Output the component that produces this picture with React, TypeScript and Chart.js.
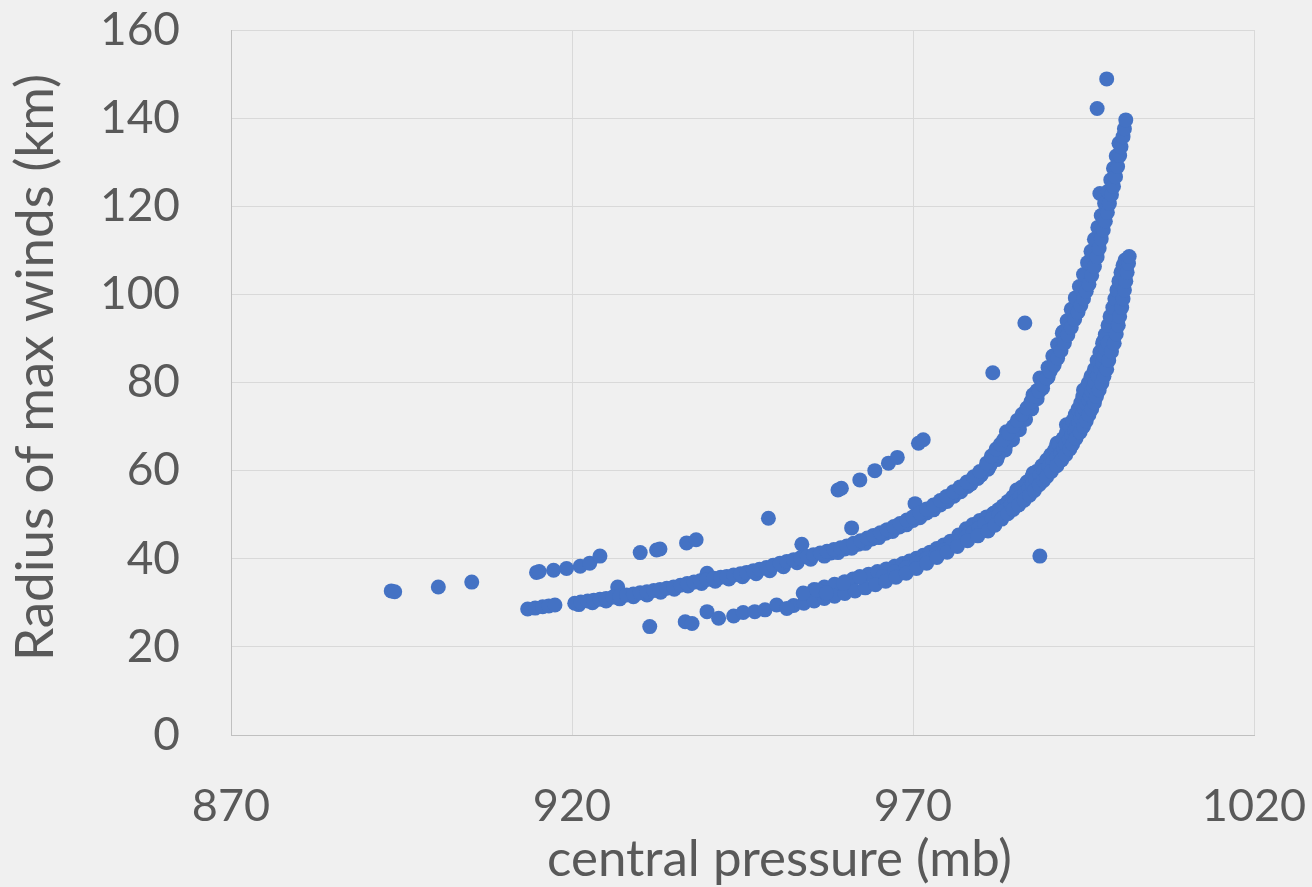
import React, { useEffect, useRef } from "react";
import { Chart, registerables } from "chart.js";

Chart.register(...registerables);

// ---- axis / text ----
const X_MIN = 870;
const X_MAX = 1020;
const X_STEP = 50;
const Y_MIN = 0;
const Y_MAX = 160;
const Y_STEP = 20;
const X_TITLE = "central pressure (mb)";
const Y_TITLE = "Radius of max winds (km)";

// ---- data (central pressure mb, radius km) ----
// main upper band
const upperBandP = [913.5, 914.6, 915.7, 916.6, 917.5, 920.4, 921.3, 922.3, 923.2, 924.1, 925.0, 926.0, 927.0, 928.0, 929.0, 930.0, 931.0, 932.0, 932.9, 933.9, 934.9, 935.9, 936.9, 937.9, 938.8, 939.8, 940.8, 941.8, 942.7, 943.7, 944.7, 945.6, 946.6, 947.5, 948.5, 949.5, 950.5, 951.5, 952.5, 953.5, 954.5, 955.4, 956.4, 957.4, 958.4, 959.4, 960.3, 961.3, 962.3, 963.3, 964.2, 965.2, 966.2, 967.2, 968.1, 969.1, 970.0, 971.0, 972.0, 973.0, 974.0, 974.9, 975.9, 976.9, 977.9, 978.9, 979.8, 980.8, 981.5, 982.2, 982.8, 983.3, 984.0, 984.7, 985.3, 986.0, 986.7, 987.3, 987.9, 988.5, 989.0, 989.6, 990.1, 990.7, 991.2, 991.7, 992.2, 992.7, 993.2, 993.7, 994.2, 994.6, 995.0, 995.4, 995.8, 996.2, 996.6, 997.0, 997.3, 997.6, 997.9, 998.2, 998.5, 998.8, 999.1, 999.4, 999.7, 1000.0, 1000.3, 1000.5, 1000.8, 1001.0, 1001.2];
const upperBandR = [28.6, 28.8, 29.1, 29.3, 29.5, 29.9, 30.2, 30.4, 30.6, 30.8, 31.0, 31.3, 31.5, 31.8, 32.0, 32.3, 32.5, 32.8, 33.0, 33.3, 33.6, 34.0, 34.4, 34.7, 35.0, 35.3, 35.6, 35.8, 36.0, 36.3, 36.6, 36.9, 37.3, 37.6, 38.0, 38.5, 39.0, 39.4, 39.8, 40.2, 40.5, 40.9, 41.3, 41.7, 42.1, 42.5, 42.9, 43.5, 44.1, 44.7, 45.3, 45.9, 46.6, 47.3, 48.0, 48.8, 49.5, 50.4, 51.3, 52.2, 53.2, 54.1, 55.2, 56.3, 57.4, 58.6, 59.8, 61.7, 63.3, 64.9, 66.0, 67.0, 68.5, 70.0, 71.4, 72.8, 74.2, 75.6, 76.8, 78.0, 79.5, 81.0, 82.5, 84.0, 85.5, 87.2, 89.0, 90.8, 92.5, 94.3, 96.0, 97.5, 99.0, 100.7, 102.3, 104.3, 106.3, 108.5, 110.5, 112.6, 114.6, 116.6, 118.6, 120.6, 122.6, 124.5, 126.7, 129.0, 131.5, 133.5, 135.8, 137.6, 139.6];

// inner row of the upper band
const upperEdgeP = [921, 923, 925, 927, 929, 931, 933, 935, 937, 939, 941, 943, 945, 947, 949, 951, 953, 955, 957, 959, 961, 963, 965, 967, 969, 971, 973, 975, 977, 978.5, 980, 981.3, 982.5, 983.6, 984.6, 985.6, 986.5, 987.4, 988.2, 989.0, 989.8, 990.5, 991.2, 991.9, 992.6, 993.2, 993.8, 994.4, 995.0, 995.6, 996.1, 996.6, 997.1, 997.6, 998.1, 998.6, 999.0, 999.4, 999.8, 1000.2];
const upperEdgeR = [29.6, 30.0, 30.4, 30.9, 31.4, 31.8, 32.4, 33.1, 33.8, 34.4, 34.9, 35.4, 35.9, 36.6, 37.3, 38.2, 39.1, 39.9, 40.6, 41.4, 42.4, 43.5, 44.8, 46.2, 47.7, 49.3, 51.1, 53.0, 55.2, 57.0, 59.0, 61.2, 63.5, 65.9, 68.3, 70.9, 73.3, 75.8, 78.2, 80.8, 83.4, 86.0, 88.6, 91.2, 94.0, 96.6, 99.2, 101.8, 104.5, 107.2, 109.8, 112.5, 115.2, 117.9, 120.6, 123.4, 126.0, 128.6, 131.4, 134.3];

// outer row of the upper band
const upperOuterP = [958, 960, 962, 964, 966, 968, 970, 972, 974, 976, 978, 979.5, 981, 982.3, 983.5, 984.6, 985.6, 986.5, 987.4, 988.2, 989.0, 989.8, 990.5, 991.2, 991.9, 992.6];
const upperOuterR = [41.3, 42.2, 43.3, 44.5, 45.8, 47.2, 48.7, 50.4, 52.2, 54.2, 56.4, 58.2, 60.3, 62.5, 64.7, 67.0, 69.3, 71.6, 74.0, 76.3, 78.7, 81.2, 83.6, 86.1, 88.7, 91.3];

// scattered points sticking out of the upper band
const upperBumpP = [926.7, 939.8, 953.7, 961.0, 970.3, 983.7, 987.6, 988.6, 992.0, 996.0, 997.4];
const upperBumpR = [33.6, 36.7, 43.3, 47.0, 52.5, 68.8, 77.2, 81.0, 91.5, 107.8, 122.9];

// start of the lower band (loose points)
const lowerStartP = [931.4, 936.6, 937.6, 939.8, 941.5, 943.7, 945.1, 946.8, 948.3, 950.0, 951.5, 953.9, 955.9, 957.3, 959.8, 962.2];
const lowerStartR = [24.6, 25.7, 25.3, 28.0, 26.5, 27.0, 27.8, 28.0, 28.4, 29.5, 28.7, 32.2, 32.9, 32.2, 34.4, 35.9];

// lower band, outer row
const lowerOuterP = [952.5, 954, 955.5, 957, 958.5, 960, 961.5, 963, 964.5, 966, 967.5, 969, 970.5, 972, 973.5, 975, 976.5, 978, 979.5, 981.0, 982.0, 983.0, 983.9, 984.7, 985.5, 986.3, 987.1, 987.8, 988.5, 989.1, 989.6, 990.3, 991.1, 991.8, 992.4, 993.0, 993.4, 993.9, 994.5, 995.0, 995.4, 995.8, 996.2, 996.6, 996.9, 997.3, 997.7, 998.0, 998.4, 998.7, 999.1, 999.5, 999.8, 1000.1, 1000.3, 1000.6, 1000.8, 1001.0, 1001.2, 1001.4, 1001.6, 1001.7];
const lowerOuterR = [29.4, 29.9, 30.4, 31.0, 31.5, 32.1, 32.7, 33.4, 34.1, 34.9, 35.8, 36.7, 37.8, 39.0, 40.3, 41.5, 42.8, 44.1, 45.2, 46.3, 47.6, 49.0, 50.2, 51.2, 52.2, 53.3, 54.4, 55.5, 56.8, 57.7, 58.6, 59.8, 61.1, 62.4, 63.6, 64.9, 66.0, 67.3, 68.7, 70.0, 71.3, 72.7, 74.0, 75.4, 76.8, 78.3, 79.9, 81.4, 83.0, 85.0, 87.0, 88.9, 91.0, 93.0, 95.0, 97.0, 99.0, 101.0, 103.0, 105.0, 107.0, 108.6];

// lower band, middle row
const lowerMidP = [965.6, 967.3, 969.0, 970.5, 972.0, 973.4, 974.7, 975.7, 976.7, 977.8, 978.8, 979.7, 980.5, 981.6, 982.6, 983.5, 984.3, 985.0, 985.7, 986.4, 987.0, 987.5, 988.0, 988.6, 989.2, 989.9, 990.5, 991.1, 991.7, 992.1, 992.4, 992.9, 993.3, 993.7, 994.0, 994.3, 994.6, 994.9, 995.2, 995.5, 995.8, 996.0, 996.2, 996.5, 996.7, 997.1, 997.5, 997.8, 998.0, 998.3, 998.6];
const lowerMidR = [36.0, 37.0, 38.0, 39.0, 40.0, 41.0, 42.0, 43.0, 44.0, 45.0, 46.0, 47.0, 48.0, 49.0, 50.0, 51.0, 52.0, 53.0, 54.0, 55.0, 56.0, 57.0, 58.0, 59.0, 60.0, 61.0, 62.0, 63.0, 64.0, 65.0, 66.0, 67.0, 68.0, 69.0, 70.0, 71.0, 72.0, 73.0, 74.0, 75.0, 76.0, 77.0, 78.0, 79.0, 80.0, 81.5, 83.0, 84.5, 86.0, 87.5, 89.0];

// lower band, inner row
const lowerInnerP = [955.5, 957, 958.5, 960, 961.2, 962.2, 963.5, 964.8, 966.1, 967.3, 968.5, 969.5, 970.5, 971.5, 972.5, 973.5, 974.5, 975.5, 976.7, 977.8, 978.8, 979.8, 980.8, 981.8, 982.5, 983.2, 983.9, 984.6, 985.2, 985.9, 986.7, 987.4, 988.1, 988.9, 989.6, 990.2, 990.8, 991.4, 992.0, 992.5, 993.0, 993.4, 993.8, 994.2, 994.6, 994.9, 995.3, 995.7, 996.1, 996.6, 997.0, 997.4, 997.8, 998.2, 998.6, 998.9, 999.3, 999.6, 999.9, 1000.2, 1000.5, 1000.8, 1001.1];
const lowerInnerR = [33.0, 33.6, 34.2, 34.8, 35.4, 35.9, 36.5, 37.1, 37.7, 38.3, 38.9, 39.5, 40.1, 40.8, 41.5, 42.3, 43.1, 44.0, 45.4, 46.8, 47.8, 48.7, 49.5, 50.2, 51.1, 52.0, 53.0, 54.0, 55.0, 56.2, 57.4, 58.5, 59.8, 61.1, 62.4, 63.6, 64.8, 66.0, 67.3, 68.6, 70.0, 71.3, 72.7, 74.0, 75.4, 76.8, 78.3, 79.9, 81.4, 83.0, 85.0, 86.9, 88.9, 90.9, 93.0, 95.0, 97.0, 99.0, 101.0, 103.0, 105.0, 106.6, 107.8];

// scattered points on the inner side of the lower band
const lowerBumpP = [981.8, 985.2, 987.6, 991.1, 992.5, 995.0, 997.9];
const lowerBumpR = [50.3, 55.6, 59.4, 66.2, 70.4, 78.3, 89.3];

// sparse steep sequence above the bands
const sparseP = [914.8, 915.2, 917.3, 919.2, 921.2, 922.6, 924.1, 930.0, 932.4, 932.9, 936.8, 938.2, 948.8, 959.0, 959.5, 962.2, 964.4, 966.4, 967.7, 970.8, 971.5, 981.7, 986.4, 997.0, 998.4];
const sparseR = [36.9, 37.1, 37.4, 37.8, 38.3, 39.0, 40.6, 41.4, 42.0, 42.2, 43.6, 44.3, 49.2, 55.6, 56.0, 57.9, 60.0, 61.7, 63.0, 66.2, 67.0, 82.2, 93.5, 142.2, 148.9];

// isolated points
const outlierP = [893.5, 894.0, 900.4, 905.3, 988.6];
const outlierR = [32.7, 32.5, 33.6, 34.7, 40.6];

const POINT_COLOR = "#4472C4";
const TEXT_COLOR = "#595959";
const GRID_COLOR = "#d9d9d9";
const BG_COLOR = "#f0f0f0";
const FONT = "Lato";

function zip(p: number[], r: number[]) {
  return p.map((x, i) => ({ x, y: r[i] }));
}

const groups: [number[], number[]][] = [
  [upperBandP, upperBandR],
  [upperEdgeP, upperEdgeR],
  [upperOuterP, upperOuterR],
  [upperBumpP, upperBumpR],
  [lowerStartP, lowerStartR],
  [lowerOuterP, lowerOuterR],
  [lowerMidP, lowerMidR],
  [lowerInnerP, lowerInnerR],
  [lowerBumpP, lowerBumpR],
  [sparseP, sparseR],
  [outlierP, outlierR],
];

const axisTitlesPlugin = {
  id: "axisTitles",
  afterDraw(chart: any) {
    const { ctx, chartArea } = chart;
    ctx.save();
    ctx.fillStyle = TEXT_COLOR;
    ctx.textAlign = "center";
    ctx.textBaseline = "middle";
    ctx.font = `51px ${FONT}`;
    ctx.fillText(X_TITLE, (chartArea.left + chartArea.right) / 2 + 37, chartArea.bottom + 125);
    ctx.translate(chartArea.left - 195, (chartArea.top + chartArea.bottom) / 2 - 15);
    ctx.rotate(-Math.PI / 2);
    ctx.font = `53px ${FONT}`;
    ctx.fillText(Y_TITLE, 0, 0);
    ctx.restore();
  },
};

export default function App() {
  const ref = useRef<HTMLCanvasElement | null>(null);

  useEffect(() => {
    document.body.style.margin = "0";
    document.body.style.background = BG_COLOR;
    const canvas = ref.current;
    if (!canvas) return;
    const chart = new Chart(canvas, {
      type: "scatter",
      data: {
        datasets: groups.map(([p, r]) => ({
          data: zip(p, r),
          backgroundColor: POINT_COLOR,
          borderColor: POINT_COLOR,
          borderWidth: 0,
          pointRadius: 7.5,
          pointHoverRadius: 7.5,
        })),
      },
      options: {
        responsive: false,
        animation: false,
        devicePixelRatio: 1,
        layout: { padding: { left: 0, top: 30, right: 58, bottom: 0 } },
        plugins: { legend: { display: false }, tooltip: { enabled: false } },
        events: [],
        scales: {
          x: {
            type: "linear",
            min: X_MIN,
            max: X_MAX,
            ticks: {
              stepSize: X_STEP,
              color: TEXT_COLOR,
              font: { family: FONT, size: 45 },
              padding: 0,
              maxRotation: 0,
              callback: (v: any) => String(v),
            },
            grid: { color: GRID_COLOR, drawTicks: true, tickLength: 44, tickColor: "rgba(0,0,0,0)" },
            border: { color: "#c0c0c0" },
            afterFit: (s: any) => {
              s.height = 152;
            },
          },
          y: {
            type: "linear",
            min: Y_MIN,
            max: Y_MAX,
            ticks: {
              stepSize: Y_STEP,
              color: TEXT_COLOR,
              font: { family: FONT, size: 46 },
              padding: 0,
              callback: (v: any) => String(v),
            },
            grid: { color: GRID_COLOR, drawTicks: true, tickLength: 51, tickColor: "rgba(0,0,0,0)" },
            border: { color: "#c0c0c0" },
            afterFit: (s: any) => {
              s.width = 231;
            },
          },
        },
      },
      plugins: [axisTitlesPlugin],
    });
    return () => chart.destroy();
  }, []);

  return (
    <div style={{ width: 1312, height: 887, background: BG_COLOR }}>
      <canvas ref={ref} width={1312} height={887} style={{ display: "block" }} />
    </div>
  );
}
